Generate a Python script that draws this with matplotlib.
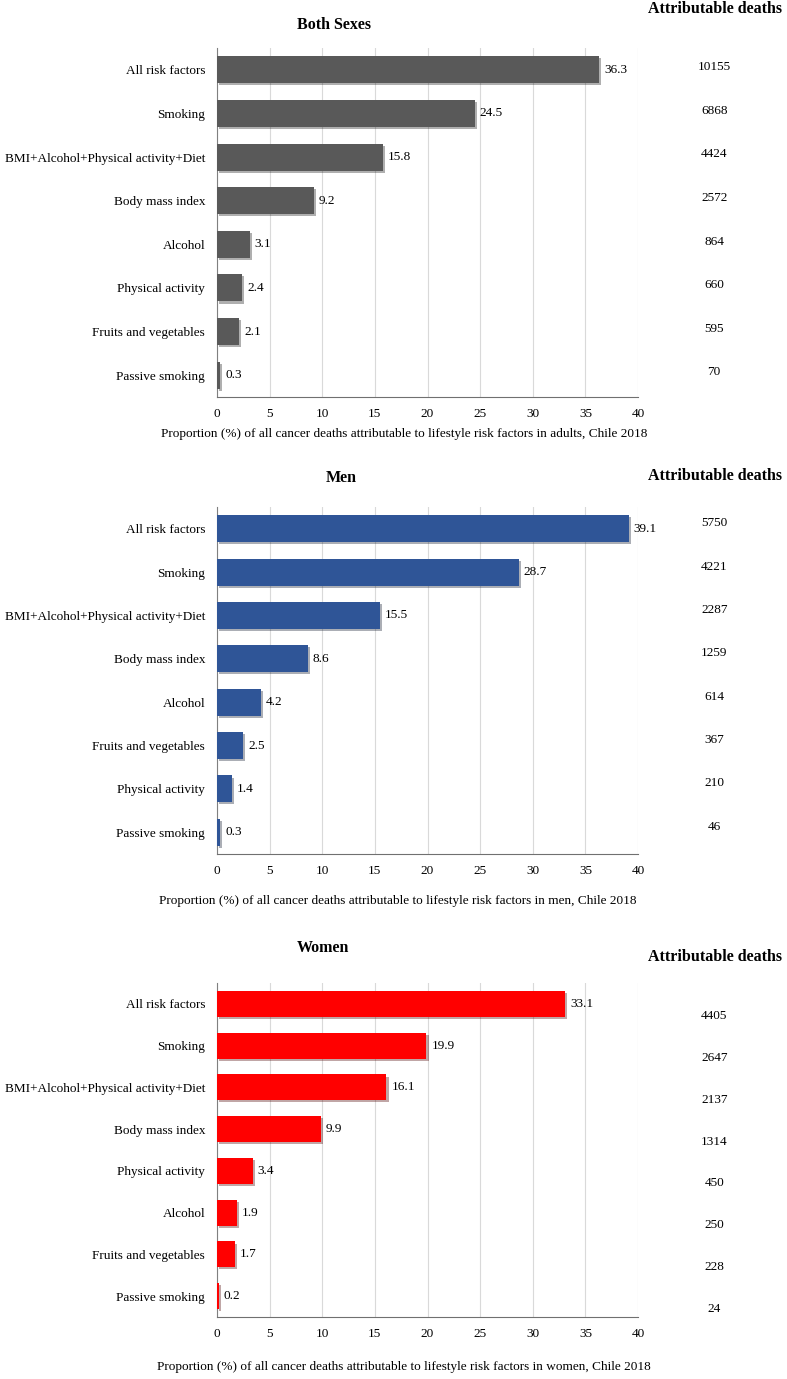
import matplotlib.pyplot as plt
import matplotlib.patheffects as pe

plt.rcParams['font.family'] = ['Liberation Serif', 'DejaVu Serif']

# data
both_labels = ["All risk factors", "Smoking", "BMI+Alcohol+Physical activity+Diet",
               "Body mass index", "Alcohol", "Physical activity",
               "Fruits and vegetables", "Passive smoking"]
both_values = [36.3, 24.5, 15.8, 9.2, 3.1, 2.4, 2.1, 0.3]
both_deaths = [10155, 6868, 4424, 2572, 864, 660, 595, 70]

men_labels = ["All risk factors", "Smoking", "BMI+Alcohol+Physical activity+Diet",
              "Body mass index", "Alcohol", "Fruits and vegetables",
              "Physical activity", "Passive smoking"]
men_values = [39.1, 28.7, 15.5, 8.6, 4.2, 2.5, 1.4, 0.3]
men_deaths = [5750, 4221, 2287, 1259, 614, 367, 210, 46]

women_labels = ["All risk factors", "Smoking", "BMI+Alcohol+Physical activity+Diet",
                "Body mass index", "Physical activity", "Alcohol",
                "Fruits and vegetables", "Passive smoking"]
women_values = [33.1, 19.9, 16.1, 9.9, 3.4, 1.9, 1.7, 0.2]
women_deaths = [4405, 2647, 2137, 1314, 450, 250, 228, 24]

xticks = [0, 5, 10, 15, 20, 25, 30, 35, 40]

W, H = 787, 1379

# title, labels, values, deaths, colour, xlabel,
# axes top/bottom (px), title (x, y px), header y px, deaths offset (pt), xlabel (x, y px)
panels = [
    ("Both Sexes", both_labels, both_values, both_deaths, "#595959",
     "Proportion (%) of all cancer deaths attributable to lifestyle risk factors in adults, Chile 2018",
     48, 397, (334, 25), 9, -2, (161, 434)),
    ("Men", men_labels, men_values, men_deaths, "#2F5597",
     "Proportion (%) of all cancer deaths attributable to lifestyle risk factors in men, Chile 2018",
     507, 854, (341, 478), 476, -4, (159, 901)),
    ("Women", women_labels, women_values, women_deaths, "#FF0000",
     "Proportion (%) of all cancer deaths attributable to lifestyle risk factors in women, Chile 2018",
     983, 1317, (323, 948), 957, 9, (157, 1367)),
]

fig = plt.figure(figsize=(W / 100, H / 100), dpi=100)
x0, x1 = 217, 638

for (title, labels, values, deaths, color, xlabel, top, bot,
     tpos, head_y, death_off, xlpos) in panels:
    ax = fig.add_axes([x0 / W, 1 - bot / H, (x1 - x0) / W, (bot - top) / H])
    y = list(range(len(labels)))
    bars = ax.barh(y, values, height=0.62, color=color, zorder=3)
    for b in bars:
        b.set_path_effects([pe.SimplePatchShadow(offset=(1.5, -1.5), alpha=0.35),
                            pe.Normal()])
    ax.set_ylim(len(labels) - 0.5, -0.5)
    ax.set_xlim(0, 40)
    ax.set_xticks(xticks)
    ax.set_yticks(y)
    ax.set_yticklabels(labels, fontsize=9.5)
    ax.tick_params(axis='both', length=0, labelsize=9.5)
    ax.tick_params(axis='y', pad=8.5)
    ax.tick_params(axis='x', pad=8)
    ax.grid(axis='x', color='#D9D9D9', linewidth=0.8, zorder=0)
    ax.set_axisbelow(True)
    for s in ['top', 'right']:
        ax.spines[s].set_visible(False)
    ax.spines['left'].set_color('#808080')
    ax.spines['bottom'].set_color('#707070')
    for yi, v in zip(y, values):
        ax.annotate(f"{v:.1f}", (v, yi), xytext=(3.5, 0), textcoords='offset points',
                    va='center', ha='left', fontsize=9.5)
    for yi, d in zip(y, deaths):
        ax.annotate(str(d), (1.181, yi), xycoords=('axes fraction', 'data'),
                    xytext=(0, -death_off), textcoords='offset points',
                    va='center', ha='center', fontsize=9.5)
    ax.set_xlabel(xlabel, fontsize=9.5, ha='left', va='center')
    ax.xaxis.set_label_coords((xlpos[0] - x0) / (x1 - x0), (bot - xlpos[1]) / (bot - top))
    fig.text(tpos[0] / W, 1 - tpos[1] / H, title, fontsize=11.5, fontweight='bold',
             ha='center', va='center')
    fig.text(782 / W, 1 - head_y / H, "Attributable deaths", fontsize=11.5,
             fontweight='bold', ha='right', va='center')

fig.savefig("out.png", dpi=100)
